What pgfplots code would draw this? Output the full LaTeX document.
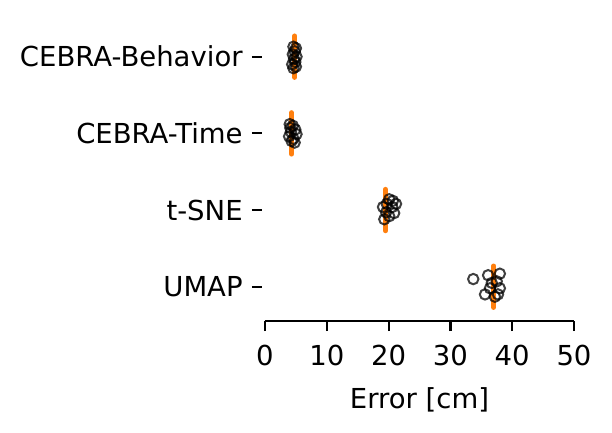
\documentclass[border=0pt]{standalone}
\usepackage{fontspec}
\setmainfont{DejaVu Sans}
\usepackage{pgfplots}
\pgfplotsset{compat=1.18}
\definecolor{mplorange}{HTML}{FF7F0E}
\begin{document}
\fontsize{27.5}{33}\selectfont
\begin{tikzpicture}
\begin{axis}[name=ax, scale only axis, width=309pt, height=298.6pt,
  xmin=0, xmax=50, ymin=-0.447, ymax=3.447,
  axis x line*=bottom, axis y line*=left,
  x axis line style={-, line width=2.2pt},
  y axis line style={draw=none},
  xtick={0,10,20,30,40,50}, ytick={0,1,2,3},
  yticklabels={UMAP,t-SNE,CEBRA-Time,CEBRA-Behavior},
  tick align=outside, major tick length=10pt,
  every tick/.style={black, line width=2.2pt},
  ytick style={xshift=-3pt},
  yticklabel style={xshift=-3pt},
  xticklabel style={yshift=-5pt},
  xlabel style={yshift=-3pt},
  /pgf/number format/assume math mode=true,
  every tick label/.append style={font=\fontsize{27.5}{33}\selectfont},
  label style={font=\fontsize{27.5}{33}\selectfont},
  xlabel={Error [cm]},
  clip=false,
]
\addplot[only marks, mark=o, mark size=5.2pt, mark options={draw=black, draw opacity=0.75, line width=2pt}] coordinates {
 (33.7,0.10) (36.1,0.15) (38.0,0.17) (37.5,0.07) (36.4,-0.02) (38.0,-0.02) (35.6,-0.10) (37.7,-0.10) (36.7,0.05) (37.2,-0.13)
};
\addplot[only marks, mark=o, mark size=5.2pt, mark options={draw=black, draw opacity=0.75, line width=2pt}] coordinates {
 (20.1,1.14) (20.7,1.12) (21.2,1.08) (20.6,1.04) (19.1,1.04) (19.7,1.08) (19.6,0.97) (20.9,0.96) (20.1,0.92) (19.3,0.88)
};
\addplot[only marks, mark=o, mark size=5.2pt, mark options={draw=black, draw opacity=0.75, line width=2pt}] coordinates {
 (4.0,2.12) (4.5,2.10) (4.9,2.05) (4.2,2.02) (5.1,1.99) (3.9,1.96) (4.6,1.93) (4.3,1.90) (4.8,1.88) (4.1,2.07)
};
\addplot[only marks, mark=o, mark size=5.2pt, mark options={draw=black, draw opacity=0.75, line width=2pt}] coordinates {
 (4.6,3.13) (5.0,3.11) (4.8,3.07) (4.5,3.03) (5.1,3.00) (4.7,2.97) (4.9,2.93) (4.4,2.90) (5.0,2.87) (4.6,2.85)
};
\addplot[mplorange, line width=5pt, line cap=round] coordinates {(37.0,-0.27) (37.0,0.27)};
\addplot[mplorange, line width=5pt, line cap=round] coordinates {(19.5,0.73) (19.5,1.27)};
\addplot[mplorange, line width=5pt, line cap=round] coordinates {(4.3,1.73) (4.3,2.27)};
\addplot[mplorange, line width=5pt, line cap=round] coordinates {(4.8,2.73) (4.8,3.27)};
\end{axis}
\path ([shift={(-265pt,-111pt)}]ax.south west) rectangle ++(612pt,432pt);
\end{tikzpicture}
\end{document}
